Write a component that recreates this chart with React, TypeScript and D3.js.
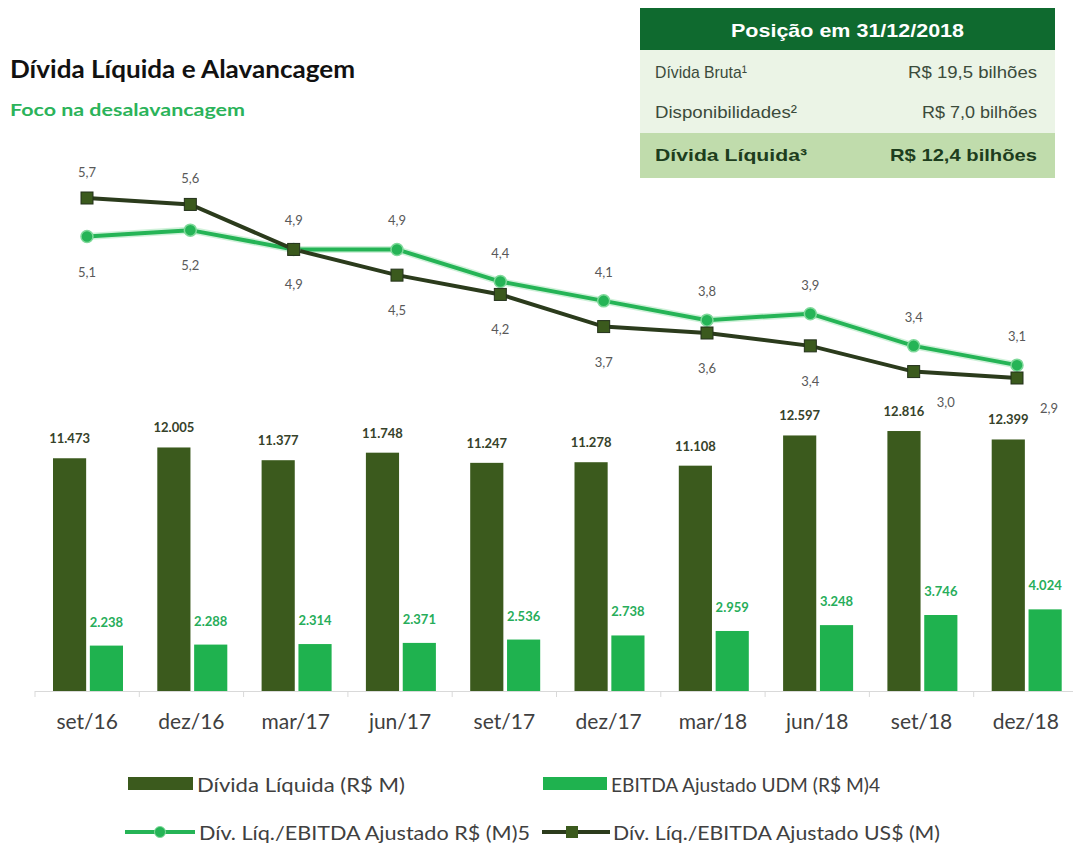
import React from "react";
import * as d3 from "d3";

const categories = ["set/16", "dez/16", "mar/17", "jun/17", "set/17", "dez/17", "mar/18", "jun/18", "set/18", "dez/18"];
const dividaLiquida = [11473, 12005, 11377, 11748, 11247, 11278, 11108, 12597, 12816, 12399];
const ebitdaAjustado = [2238, 2288, 2314, 2371, 2536, 2738, 2959, 3248, 3746, 4024];
const alavBRL = [5.1, 5.2, 4.9, 4.9, 4.4, 4.1, 3.8, 3.9, 3.4, 3.1];
const alavUSD = [5.7, 5.6, 4.9, 4.5, 4.2, 3.7, 3.6, 3.4, 3.0, 2.9];

const title = "Dívida Líquida e Alavancagem";
const subtitle = "Foco na desalavancagem";
const tableTitle = "Posição em 31/12/2018";
const tableLabels = ["Dívida Bruta¹", "Disponibilidades²", "Dívida Líquida³"];
const tableValues = ["R$ 19,5 bilhões", "R$ 7,0 bilhões", "R$ 12,4 bilhões"];
const legendLabels = [
  "Dívida Líquida (R$ M)",
  "EBITDA Ajustado UDM (R$ M)4",
  "Dív. Líq./EBITDA Ajustado R$ (M)5",
  "Dív. Líq./EBITDA Ajustado US$ (M)",
];

const DARK = "#3b5a1d";
const DARK_LINE = "#2b3b1c";
const GREEN = "#1fb24f";
const GREEN_LINE = "#25b456";
const FONT = "Lato, 'Open Sans', sans-serif";
const TFONT = "'Liberation Sans', Arial, sans-serif";

const fmtInt = (v: number) => d3.format(",")(v).replace(/,/g, ".");
const fmtDec = (v: number) => d3.format(".1f")(v).replace(".", ",");

export default function App() {
  const W = 1073, H = 844;
  const x = d3.scaleBand<string>().domain(categories).range([35, 1078]).padding(0);
  const xIn = d3.scaleBand<string>().domain(["d", "e"]).range([18, 88]).paddingInner(0.1);
  const yBar = d3.scaleLinear().domain([0, 14000]).range([691, 407]);
  const xLine = d3.scalePoint<string>().domain(categories).range([87, 1017]);
  const yLine = d3.scaleLinear().domain([2.9, 5.7]).range([378, 198]);

  const line = d3.line<number>().x((_, i) => xLine(categories[i])!).y((v) => yLine(v));

  const rowY = [72, 112, 155];
  const labelW = [92, 142, 152];
  const valueW = [129, 115, 147];
  const legendW = [208, 269, 331, 327];

  return (
    <svg width={W} height={H} style={{ position: "absolute", left: 0, top: 0, background: "#fff" }}>
      {/* Title */}
      <text x={10} y={78} fontFamily={FONT} fontWeight={700} fontSize={25} fill="#111" textLength={345} lengthAdjust="spacingAndGlyphs">{title}</text>
      <text x={10} y={116} fontFamily={FONT} fontWeight={700} fontSize={17} fill="#2bb35a" textLength={235} lengthAdjust="spacingAndGlyphs">{subtitle}</text>

      {/* Table */}
      <g>
        <rect x={640} y={8} width={415} height={42} fill="#0f6a2f" />
        <rect x={640} y={50} width={415} height={83} fill="#ebf4e6" />
        <rect x={640} y={133} width={415} height={45} fill="#c0dcac" />
        <text x={847.5} y={30} textAnchor="middle" dominantBaseline="central" fontFamily={TFONT} fontWeight={700} fontSize={19} fill="#fff" textLength={233} lengthAdjust="spacingAndGlyphs">{tableTitle}</text>
        {tableLabels.map((l, i) => {
          const cy = rowY[i];
          const bold = i === 2;
          const fill = bold ? "#1d3d1d" : "#3b4b3b";
          return (
            <g key={l}>
              <text x={655} y={cy} dominantBaseline="central" fontFamily={TFONT} fontWeight={bold ? 700 : 400} fontSize={17} fill={fill} textLength={labelW[i]} lengthAdjust="spacingAndGlyphs">{l}</text>
              <text x={1037} y={cy} textAnchor="end" dominantBaseline="central" fontFamily={TFONT} fontWeight={bold ? 700 : 400} fontSize={17} fill={fill} textLength={valueW[i]} lengthAdjust="spacingAndGlyphs">{tableValues[i]}</text>
            </g>
          );
        })}
      </g>

      {/* Axis */}
      <line x1={35} x2={1078} y1={691.5} y2={691.5} stroke="#d9d9d9" strokeWidth={1} />
      {categories.map((c) => (
        <line key={"t" + c} x1={x(c)!} x2={x(c)!} y1={691} y2={697} stroke="#d9d9d9" />
      ))}
      <line x1={1078} x2={1078} y1={691} y2={697} stroke="#d9d9d9" />
      {categories.map((c) => (
        <text key={"l" + c} x={x(c)! + x.bandwidth() / 2} y={720} textAnchor="middle" dominantBaseline="central" fontFamily={FONT} fontSize={21} fill="#404040">{c}</text>
      ))}

      {/* Bars */}
      {categories.map((c, i) => {
        const x0 = x(c)!;
        const dx = x0 + xIn("d")!;
        const ex = x0 + xIn("e")!;
        const bw = xIn.bandwidth();
        return (
          <g key={"b" + c}>
            <rect x={dx} y={yBar(dividaLiquida[i])} width={bw} height={yBar(0) - yBar(dividaLiquida[i])} fill={DARK} />
            <rect x={ex} y={yBar(ebitdaAjustado[i])} width={bw} height={yBar(0) - yBar(ebitdaAjustado[i])} fill={GREEN} />
            <text x={dx + bw / 2} y={yBar(dividaLiquida[i]) - 20} textAnchor="middle" dominantBaseline="central" fontFamily={FONT} fontWeight={700} fontSize={13} fill="#36422a">{fmtInt(dividaLiquida[i])}</text>
            <text x={ex + bw / 2} y={yBar(ebitdaAjustado[i]) - 24} textAnchor="middle" dominantBaseline="central" fontFamily={FONT} fontWeight={700} fontSize={13} fill="#27ad5a">{fmtInt(ebitdaAjustado[i])}</text>
          </g>
        );
      })}

      {/* Lines */}
      <path d={line(alavBRL)!} fill="none" stroke="#9fe3b4" strokeWidth={7} strokeOpacity={0.5} />
      <path d={line(alavBRL)!} fill="none" stroke={GREEN_LINE} strokeWidth={4} />
      <path d={line(alavUSD)!} fill="none" stroke={DARK_LINE} strokeWidth={4} />
      {alavBRL.map((v, i) => (
        <circle key={"c" + i} cx={xLine(categories[i])!} cy={yLine(v)} r={6} fill={GREEN_LINE} stroke="#7fd99a" strokeWidth={1.5} />
      ))}
      {alavUSD.map((v, i) => (
        <rect key={"s" + i} x={xLine(categories[i])! - 6} y={yLine(v) - 6} width={12} height={12} fill={DARK} stroke="#23311a" strokeWidth={1} />
      ))}

      {/* Line labels */}
      {categories.map((c, i) => {
        const px = xLine(c)!;
        const g = alavBRL[i], d = alavUSD[i];
        const brlAbove = g >= d;
        const late = i >= categories.length - 2;
        return (
          <g key={"ll" + c} fontFamily={FONT} fontSize={13} fill="#595959" textAnchor="middle">
            <text x={px} y={yLine(g) + (brlAbove ? -29 : 35)} dominantBaseline="central">{fmtDec(g)}</text>
            <text x={px + (late ? 32 : 0)} y={yLine(d) + (brlAbove ? (late ? 30 : 35) : -26)} dominantBaseline="central">{fmtDec(d)}</text>
          </g>
        );
      })}

      {/* Legend */}
      <g fontFamily={FONT} fontSize={19} fill="#404040">
        <rect x={128} y={777} width={65} height={13} fill={DARK} />
        <text x={197} y={784} dominantBaseline="central" textLength={legendW[0]} lengthAdjust="spacingAndGlyphs">{legendLabels[0]}</text>
        <rect x={543} y={777} width={64} height={13} fill={GREEN} />
        <text x={611} y={784} dominantBaseline="central" textLength={legendW[1]} lengthAdjust="spacingAndGlyphs">{legendLabels[1]}</text>
        <line x1={125} x2={195} y1={832} y2={832} stroke={GREEN_LINE} strokeWidth={4} />
        <circle cx={160} cy={832} r={5.5} fill={GREEN_LINE} stroke="#7fd99a" />
        <text x={199} y={832} dominantBaseline="central" textLength={legendW[2]} lengthAdjust="spacingAndGlyphs">{legendLabels[2]}</text>
        <line x1={542} x2={610} y1={832} y2={832} stroke={DARK_LINE} strokeWidth={4} />
        <rect x={566} y={826} width={12} height={12} fill={DARK} />
        <text x={613} y={832} dominantBaseline="central" textLength={legendW[3]} lengthAdjust="spacingAndGlyphs">{legendLabels[3]}</text>
      </g>
    </svg>
  );
}
